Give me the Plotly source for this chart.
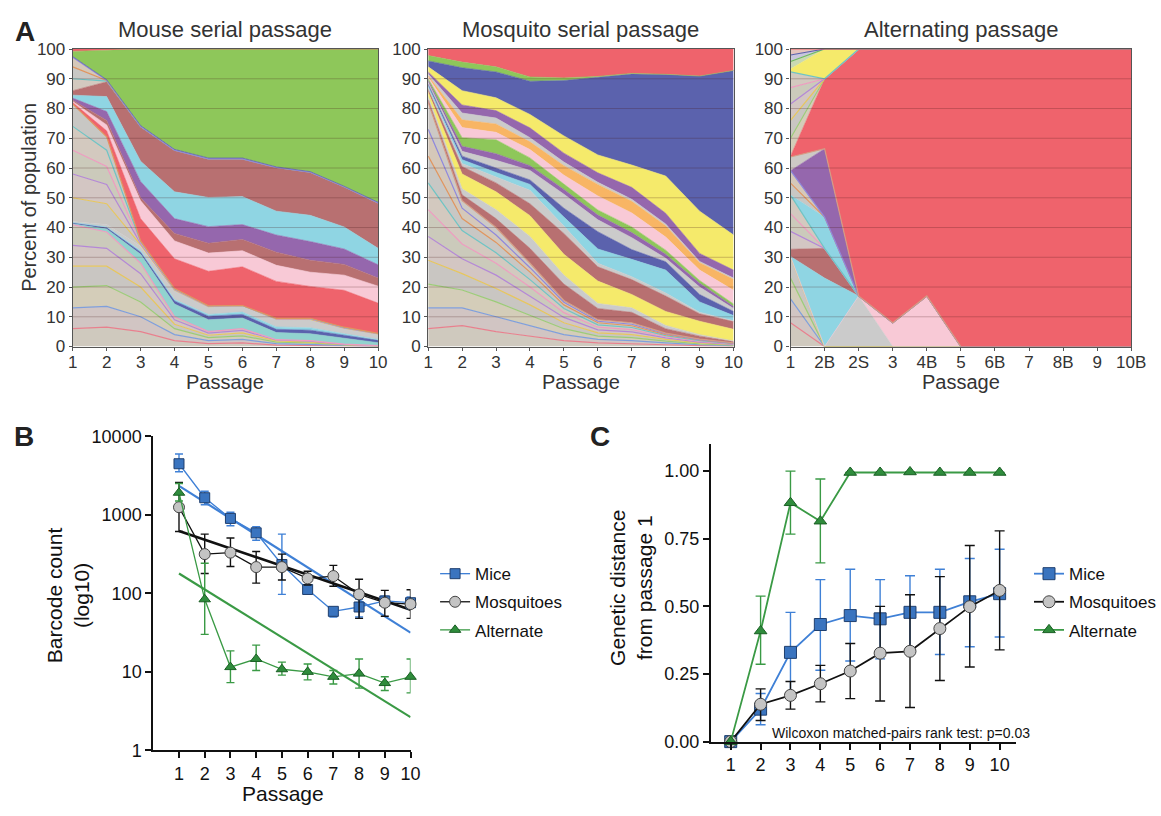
import plotly.graph_objects as go

FONT = "Liberation Sans, Arial, Helvetica, sans-serif"
W, H = 1161, 816


def px(v):
    return v / W


def py(v):
    return 1 - v / H


# ---------------- categories ----------------
passages = [1, 2, 3, 4, 5, 6, 7, 8, 9, 10]
alt_passages = ['1', '2B', '2S', '3', '4B', '5', '6B', '7', '8B', '9', '10B']
pct_ticks = [0, 10, 20, 30, 40, 50, 60, 70, 80, 90, 100]
log_ticks = [1, 10, 100, 1000, 10000]
dist_ticks = [0, 0.25, 0.5, 0.75, 1.0]
dist_ticktext = ['0.00', '0.25', '0.50', '0.75', '1.00']

# ---------------- colours ----------------
RED = '#ef636c'; GREEN = '#8ec75a'; NAVY = '#5b62ad'; YELLOW = '#f5ea6b'
PURPLE = '#9567ad'; GRAY = '#cbcbcb'; ORANGE = '#f8b564'; PINK = '#f8c9d6'
CYAN = '#8fd5e3'; ROSE = '#b87071'; TEAL = '#91d3cf'
MINOR_FILLS = ['#cfc9be', '#d1c5c3', '#d4cdb9', '#c9c6c2', '#d3c6c3', '#cbcabb',
               '#d3c9bf', '#c8c7c4', '#d5c8b9', '#cdc9c5']
MINOR_LINES = ['#e8808e', '#7f9fdc', '#9ccc78', '#e6c65e', '#b488d6', '#ee9cc0',
               '#6fc4c4', '#e0955f', '#8f88dc', '#d49c84']

# ---------------- Mouse serial passage (% of population, stacked bottom -> top) ----------------
mouse_other_low_1 = [6, 6.5, 5, 2, 1, 1.2, 0.5, 0.4, 0.2, 0.1]
mouse_other_low_2 = [7, 7, 5, 2, 1, 1.2, 0.5, 0.4, 0.2, 0.05]
mouse_other_low_3 = [7, 7, 5, 2, 1, 1.2, 0.5, 0.4, 0.15, 0.05]
mouse_other_low_4 = [7, 6.5, 5, 1.5, 0.8, 1.0, 0.4, 0.3, 0.1, 0.05]
mouse_other_low_5 = [7, 6, 4.5, 1.5, 0.7, 0.8, 0.3, 0.3, 0.1, 0.03]
mouse_other_low_6 = [7, 5.5, 3.5, 1, 0.5, 0.6, 0.1, 0.2, 0.05, 0.02]
mouse_teal = [0.3, 1.0, 3.0, 4.3, 4.0, 3.6, 2.4, 2.3, 2.0, 1.0]
mouse_navy = [0.3, 0.5, 0.7, 1.0, 1.2, 1.2, 1.1, 1.2, 1.0, 0.8]
mouse_sky = [0.1, 0.2, 0.5, 0.5, 0.6, 0.8, 0.8, 0.8, 0.5, 0.3]
mouse_gray = [0.3, 0.8, 1.5, 3.0, 2.5, 2.2, 2.5, 2.6, 1.8, 1.8]
mouse_other_mid_1 = [8, 7, 0.5, 0.2, 0.1, 0, 0.1, 0.2, 0.1, 0.05]
mouse_other_mid_2 = [8, 6.5, 0.4, 0.2, 0.1, 0, 0.1, 0.2, 0.1, 0.05]
mouse_other_mid_3 = [8, 6, 0.4, 0.1, 0.1, 0, 0.1, 0.1, 0.1, 0.05]
mouse_other_mid_4 = [8, 5.5, 0.3, 0.1, 0.05, 0, 0.05, 0.05, 0.05, 0.03]
mouse_other_mid_5 = [7.5, 4.5, 0.2, 0.1, 0.05, 0, 0.05, 0.05, 0.05, 0.02]
mouse_red = [0.5, 2.0, 7.5, 10.0, 11.6, 13.0, 12.4, 10.7, 12.4, 10.2]
mouse_pink = [0.4, 2.0, 6.0, 6.0, 6.1, 5.4, 5.4, 4.8, 5.1, 5.7]
mouse_rose_small = [0.4, 1.5, 1.0, 2.5, 3.3, 3.8, 4.4, 4.0, 3.6, 2.7]
mouse_purple = [0.7, 3.0, 5.5, 5.0, 5.6, 5.0, 5.8, 6.3, 5.2, 4.5]
mouse_cyan = [1.0, 5.0, 6.8, 9.0, 9.8, 9.4, 8.0, 8.8, 7.4, 5.5]
mouse_rose = [1.5, 5.0, 11.5, 14.0, 13.0, 12.7, 14.7, 14.5, 13.5, 15.3]
mouse_other_high_1 = [4.0, 0.2, 0.1, 0, 0, 0, 0, 0, 0, 0]
mouse_other_high_2 = [4.0, 0.2, 0.1, 0, 0, 0, 0, 0, 0, 0]
mouse_other_high_3 = [3.2, 0.1, 0, 0, 0, 0, 0, 0, 0, 0]
mouse_navy_top = [0.3, 0.2, 0.3, 0.3, 0.3, 0.3, 0.2, 0.2, 0.2, 0.2]
mouse_green = [1.7, 10.0, 25.7, 33.7, 36.6, 36.6, 39.6, 41.2, 46.1, 51.5]
mouse_red_top = [0.8, 0.3, 0, 0, 0, 0, 0, 0, 0, 0]

# ---------------- Mosquito serial passage ----------------
mosq_other_1 = [6, 7, 5, 3.5, 2, 1.2, 1.0, 0.6, 0.3, 0.15]
mosq_other_2 = [7, 6, 5, 3.5, 2, 1.2, 1.0, 0.6, 0.3, 0.15]
mosq_other_3 = [8, 6, 5, 3.5, 2, 1.1, 1.0, 0.6, 0.3, 0.15]
mosq_other_4 = [8, 5.5, 4.5, 3.5, 2, 1.1, 1.0, 0.6, 0.3, 0.15]
mosq_other_5 = [8, 5, 4.5, 3, 1.8, 1.0, 0.9, 0.5, 0.3, 0.15]
mosq_other_6 = [9, 5, 4, 3, 1.6, 0.9, 0.8, 0.4, 0.25, 0.1]
mosq_other_7 = [9, 4.5, 3.5, 2.5, 1.4, 0.8, 0.7, 0.4, 0.25, 0.1]
mosq_other_8 = [9, 4, 3.5, 2.5, 1.2, 0.7, 0.6, 0.3, 0.2, 0.1]
mosq_other_9 = [9, 3.5, 2.5, 1.5, 0.9, 0.5, 0.5, 0.3, 0.15, 0.1]
mosq_other_10 = [9, 2.5, 2.5, 1.5, 0.6, 0.5, 0.5, 0.2, 0.15, 0.05]
mosq_rose_low = [1.0, 2.0, 3.0, 5.0, 5.5, 3.8, 3.5, 1.5, 1.0, 0.5]
mosq_gray_low = [1.0, 2.0, 3.0, 4.0, 3.0, 1.7, 1.5, 1.1, 0.5, 0.2]
mosq_yellow_low = [1.5, 5.0, 6.0, 7.0, 7.0, 7.5, 4.5, 4.7, 4.5, 3.9]
mosq_rose = [1.0, 2.5, 3.0, 4.0, 7.0, 4.8, 5.0, 5.2, 2.5, 2.6]
mosq_gray_mid = [0.5, 1.0, 2.0, 4.5, 2.5, 1.2, 1.0, 1.0, 0.5, 0.3]
mosq_cyan = [0.6, 1.3, 1.5, 2.0, 3.0, 4.8, 5.8, 7.7, 3.5, 1.7]
mosq_navy_low = [0.6, 1.2, 1.5, 1.5, 3.0, 5.8, 3.3, 2.8, 2.5, 1.4]
mosq_gray_high = [0.6, 1.6, 2.6, 3.2, 4.7, 4.0, 4.0, 1.2, 2.5, 1.0]
mosq_purple_low = [0.6, 1.7, 2.2, 1.6, 1.6, 1.6, 1.7, 1.3, 1.3, 0.7]
mosq_green_low = [0.6, 2.9, 4.7, 2.6, 1.8, 1.7, 1.9, 1.4, 0.9, 0.8]
mosq_pink = [0.5, 3.4, 2.5, 2.8, 3.0, 4.7, 4.7, 4.4, 3.5, 4.6]
mosq_orange = [0.5, 2.6, 2.8, 2.6, 3.2, 3.9, 3.9, 3.8, 2.5, 3.7]
mosq_gray = [0.6, 2.3, 2.0, 1.4, 1.2, 0.7, 0.7, 0.6, 0.4, 0.4]
mosq_purple = [0.7, 2.7, 2.5, 3.3, 3.0, 3.2, 4.0, 3.6, 2.7, 2.7]
mosq_yellow = [1.7, 4.8, 4.3, 4.5, 5.8, 6.0, 7.5, 12.5, 14.2, 11.8]
mosq_navy = [2.0, 7.7, 8.7, 11.2, 18.6, 26.0, 30.6, 34.1, 45.4, 55.3]
mosq_green = [1.8, 1.9, 1.7, 1.4, 0.9, 0.4, 0.2, 0.1, 0.0, 0.0]
mosq_red = [2.2, 4.4, 6.0, 9.4, 9.7, 9.2, 8.2, 8.5, 9.1, 7.2]

# ---------------- Alternating passage ----------------
alt_other_a1 = [8.0, 0, 0, 0, 0, 0, 0, 0, 0, 0, 0]
alt_other_a2 = [8.0, 0, 0, 0, 0, 0, 0, 0, 0, 0, 0]
alt_other_a3 = [7.0, 0, 0, 0, 0, 0, 0, 0, 0, 0, 0]
alt_other_a4 = [7.3, 0, 0, 0, 0, 0, 0, 0, 0, 0, 0]
alt_gray = [0, 0, 17, 0, 0, 0, 0, 0, 0, 0, 0]
alt_pink = [0, 0, 0, 8, 17, 0, 0, 0, 0, 0, 0]
alt_cyan_low = [0, 23, 0, 0, 0, 0, 0, 0, 0, 0, 0]
alt_rose = [2.4, 10, 0, 0, 0, 0, 0, 0, 0, 0, 0]
alt_other_b1 = [6.0, 0, 0, 0, 0, 0, 0, 0, 0, 0, 0]
alt_other_b2 = [6.0, 0, 0, 0, 0, 0, 0, 0, 0, 0, 0]
alt_other_b3 = [6.2, 0, 0, 0, 0, 0, 0, 0, 0, 0, 0]
alt_cyan_up = [0, 10.5, 0, 0, 0, 0, 0, 0, 0, 0, 0]
alt_other_c1 = [4.0, 0, 0, 0, 0, 0, 0, 0, 0, 0, 0]
alt_other_c2 = [4.2, 0, 0, 0, 0, 0, 0, 0, 0, 0, 0]
alt_purple = [0, 23, 0, 0, 0, 0, 0, 0, 0, 0, 0]
alt_other_d = [4.6, 0, 0, 0, 0, 0, 0, 0, 0, 0, 0]
alt_red = [0.3, 23.5, 83, 92, 83, 100, 100, 100, 100, 100, 100]
alt_other_e1 = [6.0, 0, 0, 0, 0, 0, 0, 0, 0, 0, 0]
alt_other_e2 = [6.0, 0, 0, 0, 0, 0, 0, 0, 0, 0, 0]
alt_other_e3 = [5.5, 0, 0, 0, 0, 0, 0, 0, 0, 0, 0]
alt_other_e4 = [5.5, 0, 0, 0, 0, 0, 0, 0, 0, 0, 0]
alt_other_e5 = [5.3, 0, 0, 0, 0, 0, 0, 0, 0, 0, 0]
alt_yellow = [1.0, 10, 0, 0, 0, 0, 0, 0, 0, 0, 0]
alt_top_1 = [2.5, 0, 0, 0, 0, 0, 0, 0, 0, 0, 0]
alt_top_2 = [2.2, 0, 0, 0, 0, 0, 0, 0, 0, 0, 0]
alt_top_3 = [2.0, 0, 0, 0, 0, 0, 0, 0, 0, 0, 0]

# ---------------- Panel B: barcode counts ----------------
mice_count = [4470, 1650, 900, 590, 233, 112, 59, 67, 80, 76]
mice_count_lo = [3530, 1345, 727, 475, 97, 101, 50, 50, 70, 64]
mice_count_hi = [5940, 2000, 1080, 706, 568, 128, 66, 84, 92, 90]
mosq_count = [1250, 316, 330, 216, 216, 155, 166, 97, 76, 73]
mosq_count_lo = [612, 179, 220, 135, 148, 128, 123, 48, 51, 48]
mosq_count_hi = [2580, 568, 507, 341, 316, 191, 227, 151, 109, 111]
alt_count = [1910, 84, 11.5, 14.6, 10.8, 10.0, 8.65, 9.5, 7.2, 8.65]
alt_count_lo = [1500, 30, 7.3, 10.4, 9.1, 7.9, 7.0, 6.2, 5.8, 5.4]
alt_count_hi = [2500, 242, 18.5, 21.9, 13.3, 12.6, 10.4, 14.6, 8.65, 14.6]
fit_x = [1, 10]
mice_fit = [2340, 31.6]
mosq_fit = [624, 62]
alt_fit = [179, 2.65]

# ---------------- Panel C: genetic distance ----------------
mice_dist = [0, 0.12, 0.33, 0.433, 0.466, 0.454, 0.478, 0.478, 0.517, 0.547]
mice_dist_lo = [0, 0.0625, 0.18, 0.264, 0.298, 0.306, 0.343, 0.322, 0.351, 0.387]
mice_dist_hi = [0, 0.178, 0.478, 0.599, 0.637, 0.599, 0.613, 0.637, 0.677, 0.711]
mosq_dist = [0, 0.138, 0.171, 0.214, 0.261, 0.327, 0.334, 0.418, 0.499, 0.559]
mosq_dist_lo = [0, 0.078, 0.12, 0.147, 0.159, 0.15, 0.126, 0.226, 0.276, 0.339]
mosq_dist_hi = [0, 0.195, 0.222, 0.282, 0.363, 0.5, 0.543, 0.61, 0.725, 0.779]
alt_dist = [0, 0.409, 0.883, 0.815, 0.995, 0.995, 0.997, 0.995, 0.995, 0.995]
alt_dist_lo = [0, 0.286, 0.767, 0.661, 0.995, 0.995, 0.997, 0.995, 0.995, 0.995]
alt_dist_hi = [0, 0.538, 1.0, 0.971, 0.995, 0.995, 0.997, 0.995, 0.995, 0.995]

fig = go.Figure()


def add_stack(bands, x, xa, ya, group):
    for vals, fill, line, lw in bands:
        fig.add_trace(go.Scatter(
            x=x, y=vals, stackgroup=group, mode='lines',
            line=dict(color=line, width=lw), fillcolor=fill,
            xaxis=xa, yaxis=ya, showlegend=False, hoverinfo='skip'))


def minor(i):
    return (MINOR_FILLS[i % len(MINOR_FILLS)], MINOR_LINES[i % len(MINOR_LINES)], 1.2)


def major(c):
    return (c, c, 0.6)


mouse_bands = []
for i, arr in enumerate([mouse_other_low_1, mouse_other_low_2, mouse_other_low_3,
                         mouse_other_low_4, mouse_other_low_5, mouse_other_low_6]):
    mouse_bands.append((arr,) + minor(i))
mouse_bands += [(mouse_teal,) + major(TEAL), (mouse_navy,) + major(NAVY), (mouse_sky,) + major(CYAN),
                (mouse_gray,) + major(GRAY)]
for i, arr in enumerate([mouse_other_mid_1, mouse_other_mid_2, mouse_other_mid_3,
                         mouse_other_mid_4, mouse_other_mid_5]):
    mouse_bands.append((arr,) + minor(i + 3))
mouse_bands += [(mouse_red,) + major(RED), (mouse_pink,) + major(PINK), (mouse_rose_small,) + major(ROSE),
                (mouse_purple,) + major(PURPLE), (mouse_cyan,) + major(CYAN), (mouse_rose,) + major(ROSE)]
for i, arr in enumerate([mouse_other_high_1, mouse_other_high_2, mouse_other_high_3]):
    mouse_bands.append((arr,) + minor(i + 6))
mouse_bands += [(mouse_navy_top,) + major(NAVY), (mouse_green,) + major(GREEN), (mouse_red_top,) + major(RED)]
add_stack(mouse_bands, passages, 'x', 'y', 'mouse')

mosq_bands = []
for i, arr in enumerate([mosq_other_1, mosq_other_2, mosq_other_3, mosq_other_4, mosq_other_5,
                         mosq_other_6, mosq_other_7, mosq_other_8, mosq_other_9, mosq_other_10]):
    mosq_bands.append((arr,) + minor(i))
mosq_bands += [(mosq_rose_low,) + major(ROSE), (mosq_gray_low,) + major(GRAY),
               (mosq_yellow_low,) + major(YELLOW), (mosq_rose,) + major(ROSE),
               (mosq_gray_mid,) + major(GRAY), (mosq_cyan,) + major(CYAN),
               (mosq_navy_low,) + major(NAVY), (mosq_gray_high,) + major(GRAY),
               (mosq_purple_low,) + major(PURPLE), (mosq_green_low,) + major(GREEN),
               (mosq_pink,) + major(PINK), (mosq_orange,) + major(ORANGE),
               (mosq_gray,) + major(GRAY), (mosq_purple,) + major(PURPLE),
               (mosq_yellow,) + major(YELLOW), (mosq_navy,) + major(NAVY),
               (mosq_green,) + major(GREEN), (mosq_red,) + major(RED)]
add_stack(mosq_bands, passages, 'x2', 'y2', 'mosq')

alt_bands = []
for i, arr in enumerate([alt_other_a1, alt_other_a2, alt_other_a3, alt_other_a4]):
    alt_bands.append((arr,) + minor(i))
alt_bands += [(alt_gray,) + major(GRAY), (alt_pink,) + major(PINK), (alt_cyan_low,) + major(CYAN),
              (alt_rose,) + major(ROSE)]
for i, arr in enumerate([alt_other_b1, alt_other_b2, alt_other_b3]):
    alt_bands.append((arr,) + minor(i + 4))
alt_bands.append((alt_cyan_up,) + major(CYAN))
for i, arr in enumerate([alt_other_c1, alt_other_c2]):
    alt_bands.append((arr,) + minor(i + 7))
alt_bands += [(alt_purple,) + major(PURPLE), (alt_other_d,) + minor(9), (alt_red,) + major(RED)]
for i, arr in enumerate([alt_other_e1, alt_other_e2, alt_other_e3, alt_other_e4, alt_other_e5]):
    alt_bands.append((arr,) + minor(i + 2))
alt_bands += [(alt_yellow,) + major(YELLOW), (alt_top_1, '#c9d9b4', '#6dbb5a', 1.2),
              (alt_top_2, '#c8c6dc', NAVY, 1.2), (alt_top_3, '#e6c4bd', RED, 1.2)]
add_stack(alt_bands, alt_passages, 'x3', 'y3', 'alt')

# ---------------- Panel B traces ----------------
BLUE = '#3f80d6'; BLUE_M = '#3a74bf'; BLACK = '#111111'; GREEN_L = '#3a9a45'; GREEN_M = '#2f8c3c'

for fy, col, wdt in [(mice_fit, BLUE, 2.2), (mosq_fit, BLACK, 2.6), (alt_fit, GREEN_L, 2.2)]:
    fig.add_trace(go.Scatter(x=fit_x, y=fy, mode='lines', line=dict(color=col, width=wdt),
                             xaxis='x4', yaxis='y4', showlegend=False, hoverinfo='skip'))


def err(vals, lo, hi, col, cap):
    return dict(type='data', symmetric=False,
                array=[h - v for v, h in zip(vals, hi)],
                arrayminus=[v - l for v, l in zip(vals, lo)],
                color=col, thickness=1.4, width=cap)


series_b = [
    ('Mice', mice_count, mice_count_lo, mice_count_hi, BLUE, 'square', BLUE_M, '#1f3f6e', 10),
    ('Mosquitoes', mosq_count, mosq_count_lo, mosq_count_hi, BLACK, 'circle', '#c4c4c4', '#444444', 11),
    ('Alternate', alt_count, alt_count_lo, alt_count_hi, GREEN_L, 'triangle-up', GREEN_M, '#1a5e24', 10),
]
for name, v, lo, hi, col, sym, mfill, mline, ms in series_b:
    fig.add_trace(go.Scatter(
        x=passages, y=v, name=name, mode='lines+markers',
        line=dict(color=col, width=1.3),
        marker=dict(symbol=sym, size=ms, color=mfill, line=dict(color=mline, width=1)),
        error_y=err(v, lo, hi, col, 4), xaxis='x4', yaxis='y4',
        legend='legend', legendgroup='b' + name, cliponaxis=False))

series_c = [
    ('Mice', mice_dist, mice_dist_lo, mice_dist_hi, BLUE, 'square', BLUE_M, '#1f3f6e', 12),
    ('Mosquitoes', mosq_dist, mosq_dist_lo, mosq_dist_hi, BLACK, 'circle', '#c4c4c4', '#444444', 12),
    ('Alternate', alt_dist, alt_dist_lo, alt_dist_hi, GREEN_L, 'triangle-up', GREEN_M, '#1a5e24', 11),
]
for name, v, lo, hi, col, sym, mfill, mline, ms in series_c:
    fig.add_trace(go.Scatter(
        x=passages, y=v, name=name, mode='lines+markers',
        line=dict(color=col, width=1.8),
        marker=dict(symbol=sym, size=ms, color=mfill, line=dict(color=mline, width=1)),
        error_y=err(v, lo, hi, col, 5), xaxis='x5', yaxis='y5',
        legend='legend2', legendgroup='c' + name, cliponaxis=False))

# ---------------- axes ----------------
A_TICK = dict(family=FONT, size=17, color='#333333')
a_axis = dict(showline=True, linecolor='#555555', linewidth=1.2, mirror=True, ticks='outside',
              ticklen=3, tickcolor='#555555', showgrid=False, zeroline=False, tickfont=A_TICK,
              layer='above traces')
a_ydom = [py(345), py(40)]
layout_axes = {}
for idx, (x0, x1) in zip(['', '2', '3'], [(69, 380), (431, 742), (800, 1147)]):
    xa = dict(a_axis, domain=[px(x0), px(x1)], anchor='y' + idx, ticklabelstandoff=-3)
    if idx == '3':
        xa.update(type='category', range=[0, 10], categoryorder='array', categoryarray=alt_passages)
    else:
        xa.update(range=[1, 10], tickvals=passages)
    ya = dict(a_axis, domain=a_ydom, anchor='x' + idx, range=[0, 100], tickvals=pct_ticks)
    layout_axes['xaxis' + idx] = xa
    layout_axes['yaxis' + idx] = ya

BC_TICK = dict(family=FONT, size=18, color='#111111')
bc_axis = dict(showline=True, linecolor='#111111', linewidth=2, ticks='outside', ticklen=6,
               tickwidth=1.6, tickcolor='#111111', showgrid=False, zeroline=False, tickfont=BC_TICK)
layout_axes['xaxis4'] = dict(bc_axis, domain=[px(151), px(413)], anchor='y4', range=[0, 10],
                             tickvals=passages)
layout_axes['yaxis4'] = dict(bc_axis, domain=[py(759), py(437)], anchor='x4', type='log',
                             range=[0, 4], tickvals=log_ticks, ticktext=[str(t) for t in log_ticks])
layout_axes['xaxis5'] = dict(bc_axis, domain=[px(719), px(1030)], anchor='y5', range=[0.34, 10.56],
                             tickvals=passages)
layout_axes['yaxis5'] = dict(bc_axis, domain=[py(750), py(445)], anchor='x5', range=[0, 1.1],
                             tickvals=dist_ticks, ticktext=dist_ticktext)

# grid lines drawn over the stacked areas
shapes = []
for idx in ['', '2', '3']:
    for g in pct_ticks[1:-1]:
        shapes.append(dict(type='line', xref='x' + idx + ' domain', x0=0, x1=1,
                           yref='y' + idx, y0=g, y1=g, layer='above',
                           line=dict(color='rgba(70,25,25,0.25)', width=1)))


def ann(text, x, y, size, color='#333333', angle=0, xanchor='center', bold=False):
    return dict(text=('<b>%s</b>' % text) if bold else text, x=px(x), y=py(y), xref='paper',
                yref='paper', showarrow=False, textangle=angle, xanchor=xanchor, yanchor='middle',
                font=dict(family=FONT, size=size, color=color))


annotations = [
    ann('A', 20, 22, 28, '#222222', bold=True),
    ann('B', 19, 437, 28, '#222222', bold=True),
    ann('C', 606, 437, 28, '#222222', bold=True),
    ann('Mouse serial passage', 224.5, 20, 22),
    ann('Mosquito serial passage', 586.5, 20, 22),
    ann('Alternating passage', 973.5, 20, 22),
    ann('Passage', 224.5, 381, 20),
    ann('Passage', 586.5, 381, 20),
    ann('Passage', 973.5, 381, 20),
    ann('Percent of population', 25, 192, 20, angle=-90),
    ann('Barcode count<br>(log10)', 64, 600, 21, '#111111', angle=-90),
    ann('Passage', 283, 803, 21, '#111111'),
    ann('Genetic distance<br>from passage 1', 638, 592, 21, '#111111', angle=-90),
    ann('Wilcoxon matched-pairs rank test: p=0.03', 1046, 741, 14, '#111111', xanchor='right'),
]

LEG_FONT = dict(family=FONT, size=17, color='#111111')
fig.update_layout(
    width=W, height=H, margin=dict(l=0, r=0, t=0, b=0),
    paper_bgcolor='white', plot_bgcolor='white',
    font=dict(family=FONT),
    shapes=shapes, annotations=annotations,
    legend=dict(x=px(438), y=py(607), xanchor='left', yanchor='middle', font=LEG_FONT,
                bgcolor='rgba(0,0,0,0)', tracegroupgap=3, itemsizing='trace'),
    legend2=dict(x=px(1043), y=py(607), xanchor='left', yanchor='middle', font=LEG_FONT,
                 bgcolor='rgba(0,0,0,0)', tracegroupgap=3, itemsizing='trace'),
    **layout_axes,
)

fig.write_html("out.html")
